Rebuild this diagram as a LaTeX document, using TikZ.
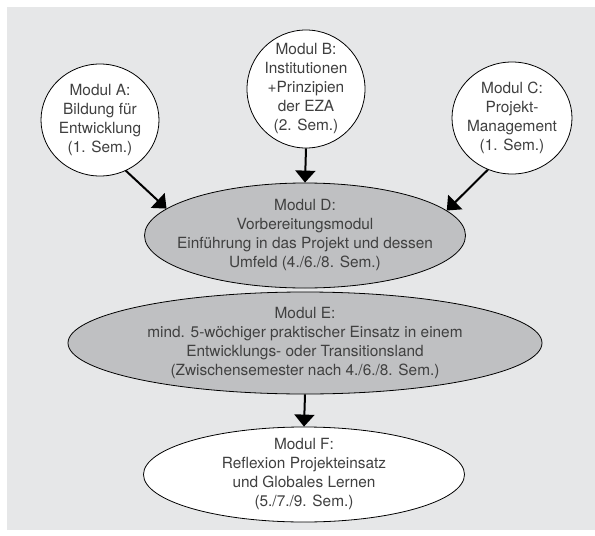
\documentclass[tikz,border=0pt]{standalone}
\usepackage{fontspec}
\setmainfont{TeX Gyre Heros}
\usetikzlibrary{shapes.geometric,arrows.meta}
\definecolor{bggray}{HTML}{E6E7E8}
\definecolor{ellgray}{HTML}{BFC0C2}
\definecolor{txtgray}{HTML}{404040}
\begin{document}
\begin{tikzpicture}[x=1pt,y=-1pt,
  modshape/.style={ellipse, draw=black, line width=0.8pt, inner sep=0pt},
  whitefill/.style={fill=white},
  grayfill/.style={fill=ellgray},
  modtext/.style={align=center, text=txtgray, inner sep=0pt, font=\fontsize{15.4}{19}\selectfont},
  arr/.style={line width=2pt, -{Triangle[length=12pt,width=20pt]}}]
\useasboundingbox (0,0) rectangle (595,536);
\fill[bggray] (7,7) rectangle (595,530);
% shapes
\node[modshape,whitefill,minimum width=118pt,minimum height=112pt] (A) at (100,120) {};
\node[modshape,whitefill,minimum width=118pt,minimum height=118pt] (B) at (306,89) {};
\node[modshape,whitefill,minimum width=120pt,minimum height=112pt] (C) at (512,118) {};
\node[modshape,grayfill,minimum width=321pt,minimum height=105pt] (D) at (305,235.5) {};
\node[modshape,grayfill,minimum width=474pt,minimum height=102pt] (E) at (305,343) {};
\node[modshape,whitefill,minimum width=321pt,minimum height=95pt] (F) at (304,474.5) {};
% texts
\node[modtext] (At) at (A.center) {Modul A:\\Bildung für\\Entwicklung\\(1. Sem.)};
\node[modtext] (Bt) at (B.center) {Modul B:\\Institutionen\\+Prinzipien\\der EZA\\(2. Sem.)};
\node[modtext] (Ct) at (C.center) {Modul C:\\Projekt-\\Management\\(1. Sem.)};
\node[modtext] (Dt) at (D.center) {Modul D:\\Vorbereitungsmodul\\Einführung in das Projekt und dessen\\Umfeld (4./6./8. Sem.)};
\node[modtext] (Et) at (E.center) {Modul E:\\mind. 5-wöchiger praktischer Einsatz in einem\\Entwicklungs- oder Transitionsland\\(Zwischensemester nach 4./6./8. Sem.)};
\node[modtext] (Ft) at (F.center) {Modul F:\\Reflexion Projekteinsatz\\und Globales Lernen\\(5./7./9. Sem.)};
% arrows
\draw[arr] (A.-63) -- (D.169.5);
\draw[arr] (B.south) -- (D.north);
\draw[arr] (C.245) -- (D.10);
\draw[arr] (E.south) -- (F.north);
\end{tikzpicture}
\end{document}
